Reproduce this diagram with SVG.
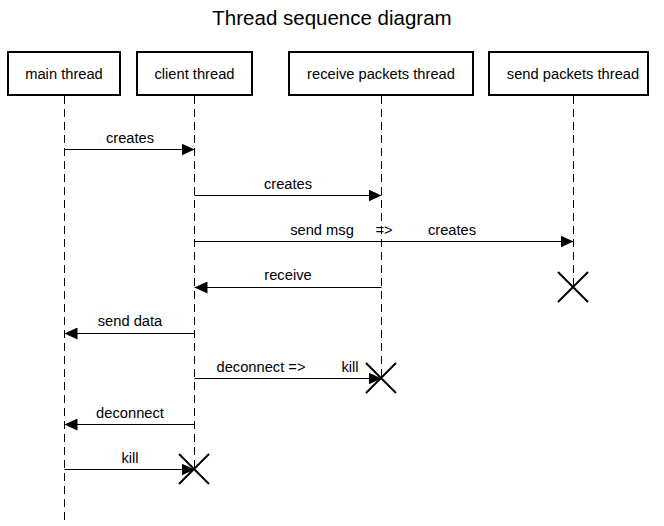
<svg xmlns="http://www.w3.org/2000/svg" width="664" height="526" viewBox="0 0 664 526">
<style>
text{font-family:"Liberation Sans",Arial,sans-serif;fill:#000}
.box{fill:#fff;stroke:#000;stroke-width:2}
.lbl{font-size:14.7px;text-anchor:middle}
.life{stroke:#000;stroke-width:1;stroke-dasharray:8,5;fill:none}
.msg{stroke:#000;stroke-width:1;fill:none}
.x{stroke:#000;stroke-width:2}
</style>
<defs>
<marker id="ah" markerWidth="13" markerHeight="12" refX="13" refY="6" orient="auto" markerUnits="userSpaceOnUse">
<path d="M0,0 L13,6 L0,12 Z" fill="#000"/>
</marker>
</defs>
<rect width="664" height="526" fill="#fff"/>
<text x="332" y="25" font-size="20.5" text-anchor="middle">Thread sequence diagram</text>
<g id="main">
<line class="life" x1="64.5" y1="96" x2="64.5" y2="522"/>
<rect class="box" x="8" y="52" width="112" height="43"/>
<text class="lbl" x="64" y="79">main thread</text>
</g>
<g id="client">
<line class="life" x1="194.5" y1="96" x2="194.5" y2="469"/>
<rect class="box" x="137" y="52" width="115" height="43"/>
<text class="lbl" x="194.5" y="79">client thread</text>
</g>
<g id="receive">
<line class="life" x1="381.5" y1="96" x2="381.5" y2="378"/>
<rect class="box" x="289" y="52" width="184" height="43"/>
<text class="lbl" x="381" y="79">receive packets thread</text>
</g>
<g id="send">
<line class="life" x1="573.5" y1="96" x2="573.5" y2="287"/>
<rect class="box" x="489" y="52" width="159" height="43"/>
<text class="lbl" x="573" y="79">send packets thread</text>
</g>
<g id="connectors">
<line class="msg" x1="64.5" y1="149.5" x2="194.5" y2="149.5" marker-end="url(#ah)"/>
<text class="lbl" x="130" y="143">creates</text>
<line class="msg" x1="194.5" y1="195.5" x2="381.5" y2="195.5" marker-end="url(#ah)"/>
<text class="lbl" x="288" y="189">creates</text>
<line class="msg" x1="194.5" y1="241.5" x2="573.5" y2="241.5" marker-end="url(#ah)"/>
<text class="lbl" x="322" y="235">send msg</text>
<text class="lbl" x="384" y="235">=&gt;</text>
<text class="lbl" x="452" y="235">creates</text>
<line class="msg" x1="381.5" y1="287.5" x2="194.5" y2="287.5" marker-end="url(#ah)"/>
<text class="lbl" x="288" y="280">receive</text>
<line class="msg" x1="194.5" y1="333.5" x2="64.5" y2="333.5" marker-end="url(#ah)"/>
<text class="lbl" x="130" y="326">send data</text>
<line class="msg" x1="194.5" y1="378.5" x2="381.5" y2="378.5" marker-end="url(#ah)"/>
<text class="lbl" x="261" y="372">deconnect =&gt;</text>
<text class="lbl" x="350" y="372">kill</text>
<line class="msg" x1="194.5" y1="424.5" x2="64.5" y2="424.5" marker-end="url(#ah)"/>
<text class="lbl" x="130" y="418">deconnect</text>
<line class="msg" x1="64.5" y1="469.5" x2="194.5" y2="469.5" marker-end="url(#ah)"/>
<text class="lbl" x="130" y="463">kill</text>
<path class="x" d="M558,272 L588,302 M588,272 L558,302"/>
<path class="x" d="M366,363 L396,393 M396,363 L366,393"/>
<path class="x" d="M179,454 L209,484 M209,454 L179,484"/>
</g>
</svg>
